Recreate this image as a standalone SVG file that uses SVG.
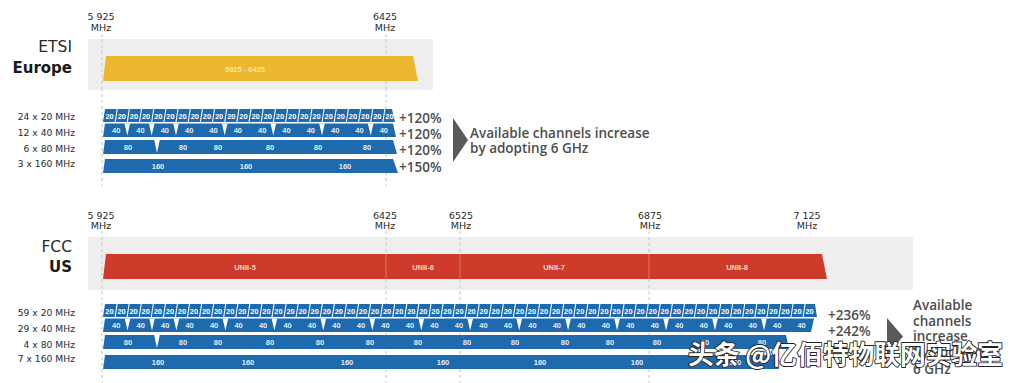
<svg xmlns="http://www.w3.org/2000/svg" width="1016" height="383" viewBox="0 0 1016 383">
<style>
.t{font-family:"DejaVu Sans",sans-serif;fill:#2a2a2a}
.fq{font-size:9.5px;text-anchor:middle}
.rl{font-size:9.2px;text-anchor:end}
.reg{font-size:15.5px;text-anchor:end}
.regb{font-size:15px;font-weight:700;text-anchor:end;fill:#1a1a1a}
.pc{font-family:"Open Sans",sans-serif;font-weight:600;font-size:13.5px;fill:#4d4d4d}
.grid{stroke:#c4c4c4;stroke-width:1;stroke-dasharray:3 3;fill:none}
.bg{fill:#eeeeee}
.blue{fill:#1D6AAF}
.sep{stroke:#ffffff;stroke-width:1.1;fill:none}
.notch{fill:#ffffff}
.c{font-family:"Liberation Sans",sans-serif;font-weight:700;font-size:7.5px;fill:#ffffff;text-anchor:middle}
.cl{font-family:"Liberation Sans",sans-serif;font-weight:700;font-size:7.5px;fill:#e3ecf6;text-anchor:middle}
.bl{font-family:"Liberation Sans",sans-serif;font-weight:700;font-size:7.5px;text-anchor:middle}
.arrow{fill:#5a5a5a}
</style>

<g id="grid-lines">
<path class="grid" d="M102 34V186M386 34V186"/>
<path class="grid" d="M102 231V383M386 231V383M460 231V383M649 231V383"/>
</g>

<!-- ETSI section -->
<g id="etsi-frequencies">
<text class="t fq" x="101" y="20">5 925</text>
<text class="t fq" x="101" y="31">MHz</text>
<text class="t fq" x="385" y="20">6425</text>
<text class="t fq" x="385" y="31">MHz</text>
</g>
<g id="etsi-region">
<rect class="bg" x="88" y="39" width="345" height="51"/>
<path class="grid" d="M102 39V90M386 39V90"/>
<text class="t reg" x="72" y="52">ETSI</text>
<text class="t regb" x="72" y="73">Europe</text>
</g>
<g id="etsi-band">
<polygon points="106,56 413,56 418,81 103,81" fill="#EDB72F"/>
<text class="bl" x="245" y="71.5" fill="#fbe6a6" font-size="7">5925 - 6425</text>
</g>

<g id="etsi-row-labels">
<text class="t rl" x="75" y="120">24 x 20 MHz</text>
<text class="t rl" x="75" y="136">12 x 40 MHz</text>
<text class="t rl" x="75" y="152">6 x 80 MHz</text>
<text class="t rl" x="75" y="167">3 x 160 MHz</text>
</g>

<g id="etsi-20">
<polygon class="blue" points="105,109 392,109 395,122 103,122"/>
<path class="sep" d="M115.2 122l2-13M127.3 122l2-13M139.5 122l2-13M151.7 122l2-13M163.9 122l2-13M176 122l2-13M188.2 122l2-13M200.4 122l2-13M212.5 122l2-13M224.7 122l2-13M236.9 122l2-13M249 122l2-13M261.2 122l2-13M273.4 122l2-13M285.6 122l2-13M297.7 122l2-13M309.9 122l2-13M322.1 122l2-13M334.2 122l2-13M346.4 122l2-13M358.6 122l2-13M370.7 122l2-13M382.9 122l2-13"/>
<text class="c" x="109.6" y="118.5">20</text><text class="c" x="121.8" y="118.5">20</text><text class="c" x="133.9" y="118.5">20</text><text class="c" x="146.1" y="118.5">20</text><text class="c" x="158.3" y="118.5">20</text><text class="c" x="170.5" y="118.5">20</text>
<text class="c" x="182.6" y="118.5">20</text><text class="c" x="194.8" y="118.5">20</text><text class="c" x="207" y="118.5">20</text><text class="c" x="219.1" y="118.5">20</text><text class="c" x="231.3" y="118.5">20</text><text class="c" x="243.5" y="118.5">20</text>
<text class="c" x="255.6" y="118.5">20</text><text class="c" x="267.8" y="118.5">20</text><text class="c" x="280" y="118.5">20</text><text class="c" x="292.2" y="118.5">20</text><text class="c" x="304.3" y="118.5">20</text><text class="c" x="316.5" y="118.5">20</text>
<text class="c" x="328.7" y="118.5">20</text><text class="c" x="340.8" y="118.5">20</text><text class="c" x="353" y="118.5">20</text><text class="c" x="365.2" y="118.5">20</text><text class="c" x="377.3" y="118.5">20</text><text class="c" x="389.5" y="118.5">20</text>
</g>
<g id="etsi-40">
<polygon class="blue" points="105,123.5 393,123.5 396,137 103,137"/>
<path class="notch" d="M124.5 123.5h5.6l-2.8 12zM148.9 123.5h5.6l-2.8 12zM173.2 123.5h5.6l-2.8 12zM221.9 123.5h5.6l-2.8 12zM270.5 123.5h5.6l-2.8 12zM319.2 123.5h5.6l-2.8 12zM367.9 123.5h5.6l-2.8 12z"/>
<text class="cl" x="116.2" y="133">40</text><text class="cl" x="140.5" y="133">40</text><text class="cl" x="164.8" y="133">40</text><text class="cl" x="189.2" y="133">40</text><text class="cl" x="213.5" y="133">40</text><text class="cl" x="237.8" y="133">40</text>
<text class="cl" x="262.2" y="133">40</text><text class="cl" x="286.5" y="133">40</text><text class="cl" x="310.8" y="133">40</text><text class="cl" x="335.2" y="133">40</text><text class="cl" x="359.5" y="133">40</text><text class="cl" x="383.8" y="133">40</text>
</g>
<g id="etsi-80">
<polygon class="blue" points="105,140 393,140 397,154 103,154"/>
<path class="notch" d="M154.2 140h5.6l-2.8 13z"/>
<text class="cl" x="128" y="149.8">80</text><text class="cl" x="183" y="149.8">80</text><text class="cl" x="218" y="149.8">80</text><text class="cl" x="270" y="149.8">80</text><text class="cl" x="318" y="149.8">80</text><text class="cl" x="367" y="149.8">80</text>
</g>
<g id="etsi-160">
<polygon class="blue" points="105,159 393,159 398,173 103,173"/>
<text class="cl" x="158" y="168.7">160</text><text class="cl" x="246" y="168.7">160</text><text class="cl" x="345" y="168.7">160</text>
</g>
<g id="etsi-gains">
<text class="pc" x="399" y="123">+120%</text>
<text class="pc" x="399" y="139">+120%</text>
<text class="pc" x="399" y="155">+120%</text>
<text class="pc" x="399" y="172">+150%</text>
</g>
<g id="etsi-note">
<text class="pc" x="470" y="138">Available channels increase</text>
<text class="pc" x="470" y="153">by adopting 6 GHz</text>
</g>

<!-- FCC section -->
<g id="fcc-frequencies">
<text class="t fq" x="101" y="219">5 925</text>
<text class="t fq" x="101" y="229">MHz</text>
<text class="t fq" x="385" y="219">6425</text>
<text class="t fq" x="385" y="229">MHz</text>
<text class="t fq" x="461" y="219">6525</text>
<text class="t fq" x="461" y="229">MHz</text>
<text class="t fq" x="650" y="219">6875</text>
<text class="t fq" x="650" y="229">MHz</text>
<text class="t fq" x="807" y="219">7 125</text>
<text class="t fq" x="807" y="229">MHz</text>
</g>
<g id="fcc-region">
<rect class="bg" x="88" y="237" width="825" height="53"/>
<path class="grid" d="M102 237V290M386 237V290M460 237V290M649 237V290"/>
<text class="t reg" x="72" y="252">FCC</text>
<text class="t regb" x="72" y="272">US</text>
</g>
<g id="fcc-band">
<polygon points="106,254 822,254 827,279 103,279" fill="#CF3B2B"/>
<path d="M386 254V279M460 254V279M649 254V279" stroke="#e4806f" stroke-width="0.8" fill="none"/>
<text class="bl" x="245" y="269.5" fill="#f7d3cb">UNII-5</text>
<text class="bl" x="423" y="269.5" fill="#f7d3cb">UNII-6</text>
<text class="bl" x="554" y="269.5" fill="#f7d3cb">UNII-7</text>
<text class="bl" x="737" y="269.5" fill="#f7d3cb">UNII-8</text>
</g>

<g id="fcc-row-labels">
<text class="t rl" x="75" y="316">59 x 20 MHz</text>
<text class="t rl" x="75" y="332">29 x 40 MHz</text>
<text class="t rl" x="75" y="348">4 x 80 MHz</text>
<text class="t rl" x="75" y="362">7 x 160 MHz</text>
</g>

<g id="fcc-20">
<polygon class="blue" points="105,304 815,304 817,317 103,317"/>
<path class="sep" d="M115.1 317l2-13M127.1 317l2-13M139.2 317l2-13M151.3 317l2-13M163.4 317l2-13M175.4 317l2-13M187.5 317l2-13M199.6 317l2-13M211.6 317l2-13M223.7 317l2-13M235.8 317l2-13M247.8 317l2-13M259.9 317l2-13M272 317l2-13M284.1 317l2-13M296.1 317l2-13M308.2 317l2-13M320.3 317l2-13M332.3 317l2-13M344.4 317l2-13M356.5 317l2-13M368.5 317l2-13M380.6 317l2-13M392.7 317l2-13M404.8 317l2-13M416.8 317l2-13M428.9 317l2-13M441 317l2-13M453 317l2-13M465.1 317l2-13M477.2 317l2-13M489.2 317l2-13M501.3 317l2-13M513.4 317l2-13M525.5 317l2-13M537.5 317l2-13M549.6 317l2-13M561.7 317l2-13M573.7 317l2-13M585.8 317l2-13M597.9 317l2-13M609.9 317l2-13M622 317l2-13M634.1 317l2-13M646.2 317l2-13M658.2 317l2-13M670.3 317l2-13M682.4 317l2-13M694.4 317l2-13M706.5 317l2-13M718.6 317l2-13M730.6 317l2-13M742.7 317l2-13M754.8 317l2-13M766.9 317l2-13M778.9 317l2-13M791 317l2-13M803.1 317l2-13"/>
<text class="c" x="109.5" y="313.5">20</text><text class="c" x="121.6" y="313.5">20</text><text class="c" x="133.6" y="313.5">20</text><text class="c" x="145.7" y="313.5">20</text><text class="c" x="157.8" y="313.5">20</text><text class="c" x="169.9" y="313.5">20</text>
<text class="c" x="181.9" y="313.5">20</text><text class="c" x="194" y="313.5">20</text><text class="c" x="206.1" y="313.5">20</text><text class="c" x="218.1" y="313.5">20</text><text class="c" x="230.2" y="313.5">20</text><text class="c" x="242.3" y="313.5">20</text>
<text class="c" x="254.3" y="313.5">20</text><text class="c" x="266.4" y="313.5">20</text><text class="c" x="278.5" y="313.5">20</text><text class="c" x="290.6" y="313.5">20</text><text class="c" x="302.6" y="313.5">20</text><text class="c" x="314.7" y="313.5">20</text>
<text class="c" x="326.8" y="313.5">20</text><text class="c" x="338.8" y="313.5">20</text><text class="c" x="350.9" y="313.5">20</text><text class="c" x="363" y="313.5">20</text><text class="c" x="375" y="313.5">20</text><text class="c" x="387.1" y="313.5">20</text>
<text class="c" x="399.2" y="313.5">20</text><text class="c" x="411.3" y="313.5">20</text><text class="c" x="423.3" y="313.5">20</text><text class="c" x="435.4" y="313.5">20</text><text class="c" x="447.5" y="313.5">20</text><text class="c" x="459.5" y="313.5">20</text>
<text class="c" x="471.6" y="313.5">20</text><text class="c" x="483.7" y="313.5">20</text><text class="c" x="495.7" y="313.5">20</text><text class="c" x="507.8" y="313.5">20</text><text class="c" x="519.9" y="313.5">20</text><text class="c" x="532" y="313.5">20</text>
<text class="c" x="544" y="313.5">20</text><text class="c" x="556.1" y="313.5">20</text><text class="c" x="568.2" y="313.5">20</text><text class="c" x="580.2" y="313.5">20</text><text class="c" x="592.3" y="313.5">20</text><text class="c" x="604.4" y="313.5">20</text>
<text class="c" x="616.4" y="313.5">20</text><text class="c" x="628.5" y="313.5">20</text><text class="c" x="640.6" y="313.5">20</text><text class="c" x="652.7" y="313.5">20</text><text class="c" x="664.7" y="313.5">20</text><text class="c" x="676.8" y="313.5">20</text>
<text class="c" x="688.9" y="313.5">20</text><text class="c" x="700.9" y="313.5">20</text><text class="c" x="713" y="313.5">20</text><text class="c" x="725.1" y="313.5">20</text><text class="c" x="737.1" y="313.5">20</text><text class="c" x="749.2" y="313.5">20</text>
<text class="c" x="761.3" y="313.5">20</text><text class="c" x="773.4" y="313.5">20</text><text class="c" x="785.4" y="313.5">20</text><text class="c" x="797.5" y="313.5">20</text><text class="c" x="809.6" y="313.5">20</text>
</g>
<g id="fcc-40">
<polygon class="blue" points="105,318.5 814,318.5 811,332 103,332"/>
<path class="notch" d="M124.7 318.5h5.6l-2.8 12zM149.2 318.5h5.6l-2.8 12zM173.6 318.5h5.6l-2.8 12zM222.6 318.5h5.6l-2.8 12zM271.6 318.5h5.6l-2.8 12zM320.5 318.5h5.6l-2.8 12zM369.5 318.5h5.6l-2.8 12zM418.5 318.5h5.6l-2.8 12zM467.4 318.5h5.6l-2.8 12zM516.4 318.5h5.6l-2.8 12zM565.3 318.5h5.6l-2.8 12zM614.3 318.5h5.6l-2.8 12zM663.3 318.5h5.6l-2.8 12zM712.2 318.5h5.6l-2.8 12zM761.2 318.5h5.6l-2.8 12z"/>
<text class="cl" x="116.2" y="328">40</text><text class="cl" x="140.7" y="328">40</text><text class="cl" x="165.2" y="328">40</text><text class="cl" x="189.6" y="328">40</text><text class="cl" x="214.1" y="328">40</text><text class="cl" x="238.6" y="328">40</text>
<text class="cl" x="263.1" y="328">40</text><text class="cl" x="287.6" y="328">40</text><text class="cl" x="312" y="328">40</text><text class="cl" x="336.5" y="328">40</text><text class="cl" x="361" y="328">40</text><text class="cl" x="385.5" y="328">40</text>
<text class="cl" x="410" y="328">40</text><text class="cl" x="434.4" y="328">40</text><text class="cl" x="458.9" y="328">40</text><text class="cl" x="483.4" y="328">40</text><text class="cl" x="507.9" y="328">40</text><text class="cl" x="532.4" y="328">40</text>
<text class="cl" x="556.8" y="328">40</text><text class="cl" x="581.3" y="328">40</text><text class="cl" x="605.8" y="328">40</text><text class="cl" x="630.3" y="328">40</text><text class="cl" x="654.8" y="328">40</text><text class="cl" x="679.2" y="328">40</text>
<text class="cl" x="703.7" y="328">40</text><text class="cl" x="728.2" y="328">40</text><text class="cl" x="752.7" y="328">40</text><text class="cl" x="777.2" y="328">40</text><text class="cl" x="801.6" y="328">40</text>
</g>
<g id="fcc-80">
<polygon class="blue" points="105,335 786,335 789,349 103,349"/>
<path class="notch" d="M154.2 335h5.6l-2.8 13z"/>
<text class="cl" x="128" y="344.8">80</text><text class="cl" x="183" y="344.8">80</text><text class="cl" x="218" y="344.8">80</text><text class="cl" x="270" y="344.8">80</text><text class="cl" x="320" y="344.8">80</text><text class="cl" x="370" y="344.8">80</text><text class="cl" x="418" y="344.8">80</text>
<text class="cl" x="467" y="344.8">80</text><text class="cl" x="515" y="344.8">80</text><text class="cl" x="565" y="344.8">80</text><text class="cl" x="610" y="344.8">80</text><text class="cl" x="657" y="344.8">80</text><text class="cl" x="705" y="344.8">80</text><text class="cl" x="762" y="344.8">80</text>
</g>
<g id="fcc-160">
<polygon class="blue" points="105,355 776,355 779,369 103,369"/>
<text class="cl" x="158" y="364.7">160</text><text class="cl" x="248" y="364.7">160</text><text class="cl" x="347" y="364.7">160</text><text class="cl" x="443" y="364.7">160</text><text class="cl" x="540" y="364.7">160</text><text class="cl" x="637" y="364.7">160</text><text class="cl" x="735" y="364.7">160</text>
</g>
<g id="fcc-gains">
<text class="pc" x="828" y="320">+236%</text>
<text class="pc" x="828" y="336">+242%</text>
</g>
<g id="fcc-note">
<text class="pc" x="913" y="310">Available</text>
<text class="pc" x="913" y="326">channels</text>
<text class="pc" x="913" y="341">increase</text>
<text class="pc" x="913" y="357">by adopting</text>
<text class="pc" x="913" y="374">6 GHz</text>
</g>

<g id="connectors">
<polygon class="arrow" points="453,118 468,140 453,162"/>
<polygon class="arrow" points="887,318 903,336.5 887,355"/>
</g>

<g id="watermark">
<text x="688" y="364" font-family="'Noto Sans CJK SC','Noto Sans',sans-serif" font-size="26" font-weight="700" fill="#ffffff" stroke="#222222" stroke-width="1.8" paint-order="stroke" stroke-linejoin="round" textLength="315" lengthAdjust="spacingAndGlyphs">头条 @亿佰特物联网实验室</text>
</g>
</svg>
